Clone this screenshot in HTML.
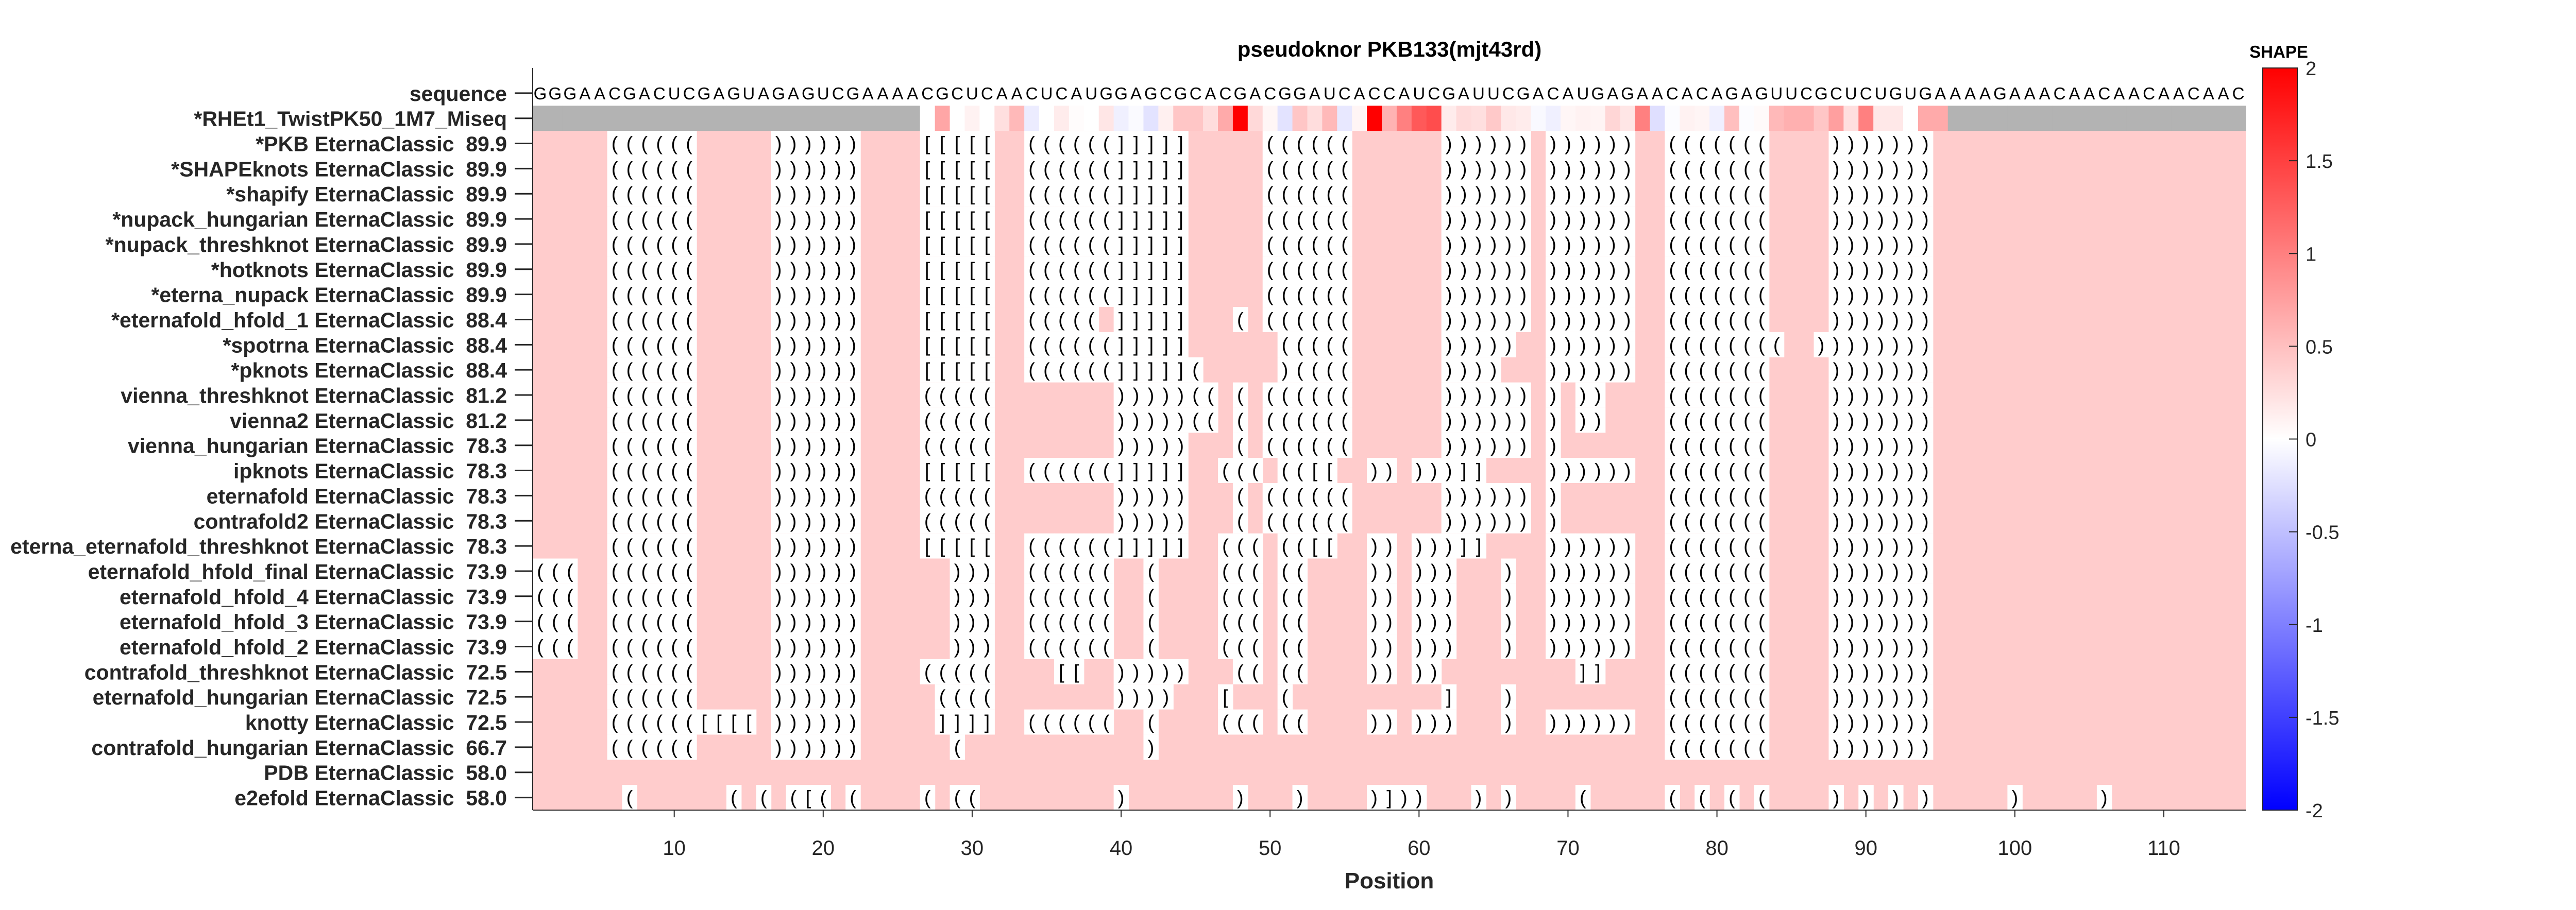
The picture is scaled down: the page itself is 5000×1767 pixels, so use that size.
<!DOCTYPE html>
<html><head><meta charset="utf-8"><title>pseudoknor PKB133(mjt43rd)</title>
<style>
html,body{margin:0;padding:0;background:#fff;}
svg{display:block;font-family:"Liberation Sans",Arial,sans-serif;}
</style></head>
<body>
<svg id="chart" width="5000" height="1767" viewBox="0 0 5000 1767" xmlns="http://www.w3.org/2000/svg">
<defs>
<linearGradient id="cbgrad" x1="0" y1="0" x2="0" y2="1">
<stop offset="0" stop-color="#ff0000"/><stop offset="0.5" stop-color="#ffffff"/><stop offset="1" stop-color="#0000ff"/>
</linearGradient>
</defs>
<text x="2697" y="110" font-size="42" font-weight="bold" text-anchor="middle" fill="#000">pseudoknor PKB133(mjt43rd)</text>
<g id="plot"></g>
<g id="axes"></g>
<g id="cbar"></g>
</svg>
<script>
// ---- data ----
const sequence = "GGGAACGACUCGAGUAGAGUCGAAAACGCUCAACUCAUGGAGCGCACGACGGAUCACCAUCGAUUCGACAUGAGAACACAGAGUUCGCUCUGUGAAAAGAAACAACAACAACAAC";
const shapeStart = 27;
const shapeValues = [0,0.7,0,0.1,0,0.25,0.55,-0.15,0,0.15,0.02,0,0.2,-0.12,-0.04,-0.22,0.12,0.45,0.45,0.27,0.67,2.0,0.3,0.07,-0.22,0.45,0.27,0.55,-0.18,0.08,2.0,0.6,1.0,1.3,1.4,0.15,0.28,0.25,0.42,0.18,0.15,-0.05,-0.12,0.07,0.1,0.09,0.32,0.2,1.0,-0.25,-0.02,0.1,0.08,-0.12,0.5,-0.02,0.04,0.55,0.62,0.62,0.45,0.75,0.25,1.0,0.18,0.18,0,0.67,0.67];
const modelNames = ["*PKB EternaClassic  89.9","*SHAPEknots EternaClassic  89.9","*shapify EternaClassic  89.9","*nupack_hungarian EternaClassic  89.9","*nupack_threshknot EternaClassic  89.9","*hotknots EternaClassic  89.9","*eterna_nupack EternaClassic  89.9","*eternafold_hfold_1 EternaClassic  88.4","*spotrna EternaClassic  88.4","*pknots EternaClassic  88.4","vienna_threshknot EternaClassic  81.2","vienna2 EternaClassic  81.2","vienna_hungarian EternaClassic  78.3","ipknots EternaClassic  78.3","eternafold EternaClassic  78.3","contrafold2 EternaClassic  78.3","eterna_eternafold_threshknot EternaClassic  78.3","eternafold_hfold_final EternaClassic  73.9","eternafold_hfold_4 EternaClassic  73.9","eternafold_hfold_3 EternaClassic  73.9","eternafold_hfold_2 EternaClassic  73.9","contrafold_threshknot EternaClassic  72.5","eternafold_hungarian EternaClassic  72.5","knotty EternaClassic  72.5","contrafold_hungarian EternaClassic  66.7","PDB EternaClassic  58.0","e2efold EternaClassic  58.0"];
const sA = [[6,"(((((("],[17,"))))))"],[27,"[[[[["],[34,"((((((]]]]]"],[50,"(((((("],[62,"))))))"],[69,"))))))"],[77,"((((((("],[88,")))))))"]];
const sVT = [[6,"(((((("],[17,"))))))"],[27,"((((("],[40,")))))(("],[48,"("],[50,"(((((("],[62,"))))))"],[69,")"],[71,"))"],[77,"((((((("],[88,")))))))"]];
const sEF = [[6,"(((((("],[17,"))))))"],[27,"((((("],[40,")))))"],[48,"("],[50,"(((((("],[62,"))))))"],[69,")"],[77,"((((((("],[88,")))))))"]];
const sIP = [[6,"(((((("],[17,"))))))"],[27,"[[[[["],[34,"((((((]]]]]"],[47,"((("],[51,"(([["],[57,"))"],[60,")))]]"],[69,"))))))"],[77,"((((((("],[88,")))))))"]];
const sHF = [[1,"((("],[6,"(((((("],[17,"))))))"],[29,")))"],[34,"(((((("],[42,"("],[47,"((("],[51,"(("],[57,"))"],[60,")))"],[66,")"],[69,"))))))"],[77,"((((((("],[88,")))))))"]];
const structures = [
 sA,sA,sA,sA,sA,sA,sA,
 [[6,"(((((("],[17,"))))))"],[27,"[[[[["],[34,"(((((.]]]]]"],[48,"("],[50,"(((((("],[62,"))))))"],[69,"))))))"],[77,"((((((("],[88,")))))))"]],
 [[6,"(((((("],[17,"))))))"],[27,"[[[[["],[34,"((((((]]]]]"],[51,"((((("],[62,")))))"],[69,"))))))"],[77,"(((((((("],[87,"))))))))"]],
 [[6,"(((((("],[17,"))))))"],[27,"[[[[["],[34,"((((((]]]]]("],[51,")(((("],[62,"))))"],[69,"))))))"],[77,"((((((("],[88,")))))))"]],
 sVT,sVT,
 [[6,"(((((("],[17,"))))))"],[27,"((((("],[40,")))))"],[48,"("],[50,"(((((("],[62,"))))))"],[69,")"],[77,"((((((("],[88,")))))))"]],
 sIP,sEF,sEF,sIP,sHF,sHF,sHF,sHF,
 [[6,"(((((("],[17,"))))))"],[27,"((((("],[36,"[["],[40,")))))"],[48,"(("],[51,"(("],[57,"))"],[60,"))"],[71,"]]"],[77,"((((((("],[88,")))))))"]],
 [[6,"(((((("],[17,"))))))"],[28,"(((("],[40,"))))"],[47,"["],[51,"("],[62,"]"],[66,")"],[77,"((((((("],[88,")))))))"]],
 [[6,"(((((([[[["],[17,"))))))"],[28,"]]]]"],[34,"(((((("],[42,"("],[47,"((("],[51,"(("],[57,"))"],[60,")))"],[66,")"],[69,"))))))"],[77,"((((((("],[88,")))))))"]],
 [[6,"(((((("],[17,"))))))"],[29,"("],[42,")"],[77,"((((((("],[88,")))))))"]],
 [],
 [[7,"("],[14,"("],[16,"("],[18,"([("],[22,"("],[27,"("],[29,"(("],[40,")"],[48,")"],[52,")"],[57,")]))"],[64,")"],[66,")"],[71,"("],[77,"("],[79,"("],[81,"("],[83,"("],[88,")"],[90,")"],[92,")"],[94,")"],[100,")"],[106,")"]]
];
const xTicks = [10,20,30,40,50,60,70,80,90,100,110];
const cbTicks = [2,1.5,1,0.5,0,-0.5,-1,-1.5,-2];
const cbLabels = ["2","1.5","1","0.5","0","-0.5","-1","-1.5","-2"];

// ---- geometry ----
const NS = "http://www.w3.org/2000/svg";
const X0 = 1034, X1 = 4359, Y0 = 132, Y1 = 1573, NPOS = 115;
const CW = (X1 - X0) / NPOS;
const RH = (Y1 - Y0) / 29.5;
function xLeft(p){ return X0 + (p - 1) * CW; }
function xCenter(p){ return X0 + (p - 0.5) * CW; }
function yCenter(r){ return Y0 + (r + 1) * RH; }
function shapeColor(v){
  v = Math.max(-2, Math.min(2, v));
  if (v >= 0){ const g = Math.round(255 * (1 - v / 2)); return `rgb(255,${g},${g})`; }
  const g = Math.round(255 * (1 + v / 2)); return `rgb(${g},${g},255)`;
}
function mk(tag, attrs, parent){
  const el = document.createElementNS(NS, tag);
  for (const k in attrs) el.setAttribute(k, attrs[k]);
  parent.appendChild(el); return el;
}
const plot = document.getElementById('plot');
const axes = document.getElementById('axes');
const cbar = document.getElementById('cbar');
const PINK = "#ffcccc";

// sequence row
for (let i = 0; i < sequence.length && i < NPOS; i++){
  const t = mk('text', {x: xCenter(i+1), y: yCenter(0) + 12, 'font-size': 33, 'text-anchor': 'middle', fill: '#000'}, plot);
  
  
  t.textContent = sequence[i];
}
// SHAPE row
{
  const yT = yCenter(1) - RH/2;
  for (let p = 1; p <= NPOS; p++){
    const idx = p - shapeStart;
    const has = idx >= 0 && idx < shapeValues.length;
    const r = mk('rect', {x: xLeft(p), y: yT, width: CW + 0.6, height: RH + 0.5, fill: has ? shapeColor(shapeValues[idx]) : '#b3b3b3'}, plot);
    
    
  }
}
// model rows
structures.forEach((segs, m) => {
  const row = m + 2;
  const yT = yCenter(row) - RH/2;
  const bg = mk('rect', {x: X0, y: yT, width: X1 - X0, height: RH + 0.5, fill: PINK}, plot);
  
  
  segs.forEach(seg => {
    const start = seg[0], s = seg[1];
    for (let k = 0; k < s.length; k++){
      const ch = s[k];
      if (ch === '.') continue;
      const p = start + k;
      const c = mk('rect', {x: xLeft(p), y: yT, width: CW + 0.6, height: RH + 0.5, fill: '#ffffff'}, plot);
      
      
      const t = mk('text', {x: xCenter(p), y: yCenter(row) + 13, 'font-size': 38, 'text-anchor': 'middle', fill: '#000'}, plot);
      
      
      t.textContent = ch;
    }
  });
});

// y labels
const yLabels = ["sequence", "*RHEt1_TwistPK50_1M7_Miseq"].concat(modelNames);
yLabels.forEach((lab, r) => {
  const t = mk('text', {x: 984, y: yCenter(r) + 15, 'font-size': 41, 'font-weight': 'bold', 'text-anchor': 'end', fill: '#262626', 'xml:space': 'preserve'}, axes);
  
  
  t.style.whiteSpace = 'pre';
  t.textContent = lab;
  const tk = mk('line', {x1: 999, x2: X0, y1: yCenter(r), y2: yCenter(r), stroke: '#262626', 'stroke-width': 3}, axes);
  
  
});
// axis lines
{
  const l1 = mk('line', {x1: X0, x2: X0, y1: Y0, y2: Y1, stroke: '#262626', 'stroke-width': 2}, axes);
  
  
  const l2 = mk('line', {x1: X0, x2: X1, y1: Y1, y2: Y1, stroke: '#262626', 'stroke-width': 2}, axes);
  
  
}
xTicks.forEach(v => {
  const tk = mk('line', {x1: xCenter(v), x2: xCenter(v), y1: Y1, y2: Y1 + 14, stroke: '#262626', 'stroke-width': 2}, axes);
  
  
  const t = mk('text', {x: xCenter(v), y: 1660, 'font-size': 40, 'text-anchor': 'middle', fill: '#262626'}, axes);
  
  
  t.textContent = String(v);
});
{
  const t = mk('text', {x: (X0 + X1) / 2, y: 1725, 'font-size': 44, 'font-weight': 'bold', 'text-anchor': 'middle', fill: '#262626'}, axes);
  
  
  t.textContent = 'Position';
}

// colorbar
const CBX0 = 4392, CBX1 = 4459;
function cbY(v){ return Y0 + (2 - v) / 4 * (Y1 - Y0); }
{
  const r = mk('rect', {x: CBX0, y: Y0, width: CBX1 - CBX0, height: Y1 - Y0, fill: 'url(#cbgrad)', stroke: '#262626', 'stroke-width': 2}, cbar);
  
  
  const t = mk('text', {x: 4423, y: 112, 'font-size': 33, 'font-weight': 'bold', 'text-anchor': 'middle', fill: '#000'}, cbar);
  
  
  t.textContent = 'SHAPE';
}
cbTicks.forEach((v, i) => {
  const y = cbY(v);
  if (v !== 2 && v !== -2){
    const tk = mk('line', {x1: CBX1 - 16, x2: CBX1, y1: y, y2: y, stroke: '#262626', 'stroke-width': 2}, cbar);
    
    
  }
  const t = mk('text', {x: 4475, y: y + 14, 'font-size': 38, fill: '#262626'}, cbar);
  
  
  t.textContent = cbLabels[i];
});
</script>
</body></html>
